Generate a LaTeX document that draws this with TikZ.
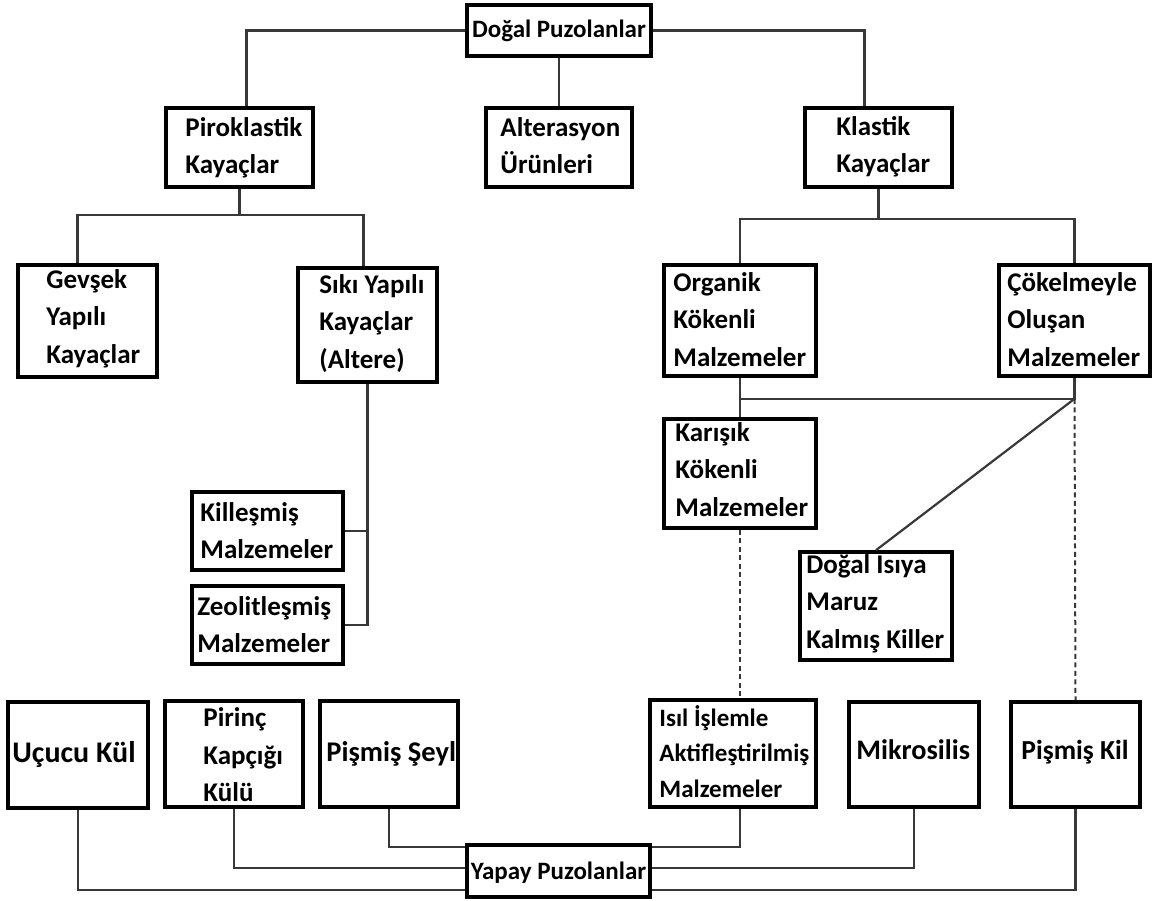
\documentclass[tikz,border=0pt]{standalone}
\usepackage{fontspec}
\setmainfont{Carlito}
\usepackage{xcolor}
\colorlet{colorBox}{black}
\colorlet{colorLine}{black!78}
\usepackage{tikz}
\usetikzlibrary{fit, calc}
\tikzset{
  kutu/.style={draw=colorBox, line width=3.6pt, inner sep=0pt, fill=white},
  yazi/.style={anchor=base west, align=left, inner sep=0pt, font=\bfseries\fontsize{27}{37.5}\selectfont},
  kucuk/.style={font=\bfseries\fontsize{25}{35.5}\selectfont},
  buyuk/.style={font=\bfseries\fontsize{#1}{36}\selectfont},
  bag/.style={draw=colorLine, line width=2.2pt},
  kesik/.style={bag, line width=2pt, dash pattern=on 5pt off 3.5pt},
}

\begin{document}
\begin{tikzpicture}[x=1pt, y=-1pt]
\useasboundingbox (0,0) rectangle (1154,900);
% ust dal
\node[kutu, fit={(467,5) (651,56)}] (dogal) {};
\node[yazi, kucuk, anchor=base] (dogal-t) at ([shift={(0,34)}]dogal.north) {Doğal Puzolanlar};
\node[kutu, fit={(166,108) (313,187)}] (piro) {};
\node[yazi] (piro-t) at ([shift={(21,67.5)}]piro.north west) {Piroklastik\\Kayaçlar};
\node[kutu, fit={(486,108) (632,187)}] (alter) {};
\node[yazi] (alter-t) at ([shift={(16,67.5)}]alter.north west) {Alterasyon\\Ürünleri};
\node[kutu, fit={(805,108) (952,187)}] (klas) {};
\node[yazi] (klas-t) at ([shift={(33,66.5)}]klas.north west) {Klastik\\Kayaçlar};
% piroklastik kollar
\node[kutu, fit={(18,265) (157,377)}] (gevsek) {};
\node[yazi] (gevsek-t) at ([shift={(30,100)}]gevsek.north west) {Gevşek\\Yapılı\\Kayaçlar};
\node[kutu, fit={(298,268) (437,382)}] (siki) {};
\node[yazi] (siki-t) at ([shift={(23,102)}]siki.north west) {Sıkı Yapılı\\Kayaçlar\\(Altere)};
\node[kutu, fit={(192,492) (343,570)}] (killes) {};
\node[yazi] (killes-t) at ([shift={(10,68.5)}]killes.north west) {Killeşmiş\\Malzemeler};
\node[kutu, fit={(192,586) (343,664)}] (zeolit) {};
\node[yazi] (zeolit-t) at ([shift={(7,68.5)}]zeolit.north west) {Zeolitleşmiş\\Malzemeler};
% klastik kollar
\node[kutu, fit={(664,265) (816,376)}] (organik) {};
\node[yazi] (organik-t) at ([shift={(11,103)}]organik.north west) {Organik\\Kökenli\\Malzemeler};
\node[kutu, fit={(999,265) (1150,376)}] (cokel) {};
\node[yazi] (cokel-t) at ([shift={(10,103)}]cokel.north west) {Çökelmeyle\\Oluşan\\Malzemeler};
\node[kutu, fit={(664,419) (816,528)}] (karisik) {};
\node[yazi] (karisik-t) at ([shift={(13,99)}]karisik.north west) {Karışık\\Kökenli\\Malzemeler};
\node[kutu, fit={(800,552) (952,660)}] (isiya) {};
\node[yazi] (isiya-t) at ([shift={(8,98)}]isiya.north west) {Doğal Isıya\\Maruz\\Kalmış Killer};
% yapay puzolanlar
\node[kutu, fit={(8,702) (148,808)}] (ucucu) {};
\node[yazi, buyuk=30] (ucucu-t) at ([shift={(6,62)}]ucucu.north west) {Uçucu Kül};
\node[kutu, fit={(165,701) (303,807)}] (pirinc) {};
\node[yazi] (pirinc-t) at ([shift={(40,102.5)}]pirinc.north west) {Pirinç\\Kapçığı\\Külü};
\node[kutu, fit={(320,701) (458,807)}] (seyl) {};
\node[yazi, buyuk=28.5] (seyl-t) at ([shift={(8,62)}]seyl.north west) {Pişmiş Şeyl};
\node[kutu, fit={(650,700) (816,807)}] (isil) {};
\node[yazi, kucuk] (isil-t) at ([shift={(11,98.8)}]isil.north west) {Isıl İşlemle\\Aktifleştirilmiş\\Malzemeler};
\node[kutu, fit={(849,702) (979,807)}] (mikro) {};
\node[yazi, buyuk=28.3] (mikro-t) at ([shift={(9,59)}]mikro.north west) {Mikrosilis};
\node[kutu, fit={(1011,702) (1140,807)}] (kil) {};
\node[yazi, buyuk=27.5] (kil-t) at ([shift={(12,59)}]kil.north west) {Pişmiş Kil};
\node[kutu, fit={(467,845) (650,897)}] (yapay) {};
\node[yazi, kucuk, anchor=base] (yapay-t) at ([shift={(0,36.5)}]yapay.north) {Yapay Puzolanlar};

\coordinate (pj) at ([shift={(0,26)}]piro.south);
\coordinate (kj) at ([shift={(0,30)}]klas.south);
\coordinate (ck) at ([shift={(0,21)}]cokel.south);

\draw[bag] (dogal.west) -| ([shift={(7,0)}]piro.north);
\draw[bag] (dogal.east) -| ([shift={(-14,0)}]klas.north);
\draw[bag] (dogal.south) -- (alter.north);
\draw[bag] (piro.south) -- (pj);
\draw[bag] ([shift={(-10,0)}]gevsek.north) |- (pj) -| ([shift={(-4,0)}]siki.north);
\draw[bag] (klas.south) -- (kj);
\draw[bag] (organik.north) |- (kj) -| (cokel.north);
\draw[bag] (siki.south) |- (zeolit.east);
\draw[bag] (killes.east) -- (killes.east -| siki.south);
\draw[bag] (organik.south) -- (karisik.north);
\draw[bag] (cokel.south) -- (ck) -- (ck -| organik.south);
\draw[bag] (ck) -- (isiya.north);
\draw[kesik] (ck) -- (kil.north);
\draw[kesik] (karisik.south) -- (karisik.south |- isil.north);
\draw[bag] (seyl.south) |- ([shift={(0,4)}]yapay.north west);
\draw[bag] (isil.south -| karisik.south) |- ([shift={(0,4)}]yapay.north east);
\draw[bag] (pirinc.south) |- ([shift={(0,25)}]yapay.north west);
\draw[bag] (mikro.south) |- ([shift={(0,25)}]yapay.north east);
\draw[bag] (ucucu.south) |- ([shift={(0,47)}]yapay.north west);
\draw[bag] (kil.south) |- ([shift={(0,47)}]yapay.north east);
\end{tikzpicture}
\end{document}
